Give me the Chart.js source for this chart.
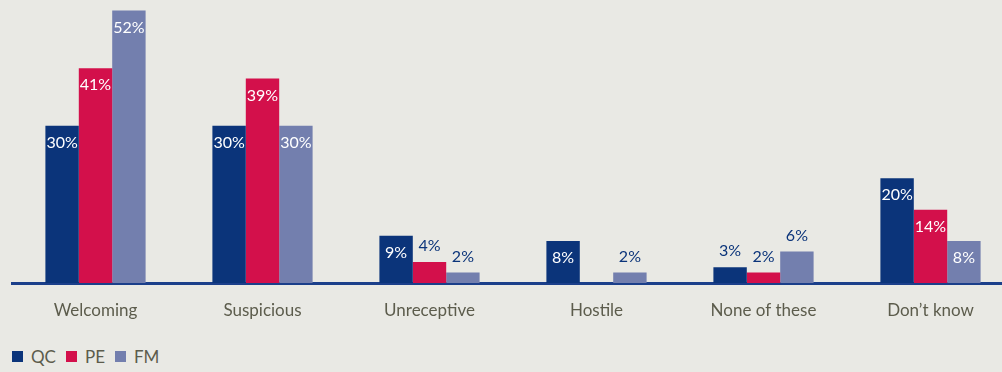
<!DOCTYPE html>
<html>
<head>
<meta charset="utf-8">
<script src="https://cdn.jsdelivr.net/npm/chart.js@4/dist/chart.umd.min.js"></script>
<style>
  html, body { margin: 0; padding: 0; background: #e9e9e4; overflow: hidden; width: 1002px; height: 372px; }
  #wrap { position: relative; width: 1014px; height: 325px; }
  #legend { position: absolute; left: 12px; top: 346px; font: 17px Lato, sans-serif; color: #5c5c4c; display: flex; align-items: center; }
  #legend span.box { display: inline-block; width: 11px; height: 11px; margin-right: 8px; }
  #legend span.item { display: inline-flex; align-items: center; margin-right: 10px; }
</style>
</head>
<body>
<div id="wrap"><canvas id="c" width="1014" height="325"></canvas></div>
<div id="legend"></div>
<script>
const categories = ["Welcoming", "Suspicious", "Unreceptive", "Hostile", "None of these", "Don\u2019t know"];
const qc = [30, 30, 9, 8, 3, 20];
const pe = [41, 39, 4, null, 2, 14];
const fm = [52, 30, 2, 2, 6, 8];

const C = {
  qc: "#0b347a",
  pe: "#d3104b",
  fm: "#737fae",
  text: "#5c5c4c",
  axis: "#1b3f8a",
};

const series = [
  { label: "QC", data: qc, color: C.qc },
  { label: "PE", data: pe, color: C.pe },
  { label: "FM", data: fm, color: C.fm },
];

// value labels: white inside tall bars, navy above short ones
const valueLabels = {
  id: "valueLabels",
  afterDatasetsDraw(chart) {
    const ctx = chart.ctx;
    ctx.save();
    ctx.font = "16px Lato, sans-serif";
    ctx.textAlign = "center";
    ctx.textBaseline = "middle";
    chart.data.datasets.forEach((ds, i) => {
      chart.getDatasetMeta(i).data.forEach((bar, j) => {
        const v = ds.data[j];
        if (v == null) return;
        if (v >= 8) {
          ctx.fillStyle = "#ffffff";
          ctx.fillText(v + "%", bar.x, bar.y + 17);
        } else {
          ctx.fillStyle = C.qc;
          ctx.fillText(v + "%", bar.x, bar.y - 16);
        }
      });
    });
    ctx.restore();
  },
};

new Chart(document.getElementById("c"), {
  type: "bar",
  data: {
    labels: categories,
    datasets: series.map(s => ({
      label: s.label,
      data: s.data,
      backgroundColor: s.color,
      categoryPercentage: 0.6,
      barPercentage: 1.0,
    })),
  },
  options: {
    responsive: false,
    animation: false,
    layout: { padding: { left: 12, right: 0, top: 0, bottom: 0 } },
    plugins: {
      legend: { display: false },
      tooltip: { enabled: false },
    },
    scales: {
      x: {
        grid: { display: false },
        border: { display: true, color: C.axis, width: 3 },
        ticks: { color: C.text, font: { family: "Lato, sans-serif", size: 17 }, padding: 9 },
        afterFit: s => { s.height = 42; },
      },
      y: {
        display: false,
        min: 0,
        max: 54,
      },
    },
  },
  plugins: [valueLabels],
});

const legend = document.getElementById("legend");
series.forEach(s => {
  const item = document.createElement("span");
  item.className = "item";
  item.innerHTML = `<span class="box" style="background:${s.color}"></span>${s.label}`;
  legend.appendChild(item);
});
</script>
</body>
</html>
